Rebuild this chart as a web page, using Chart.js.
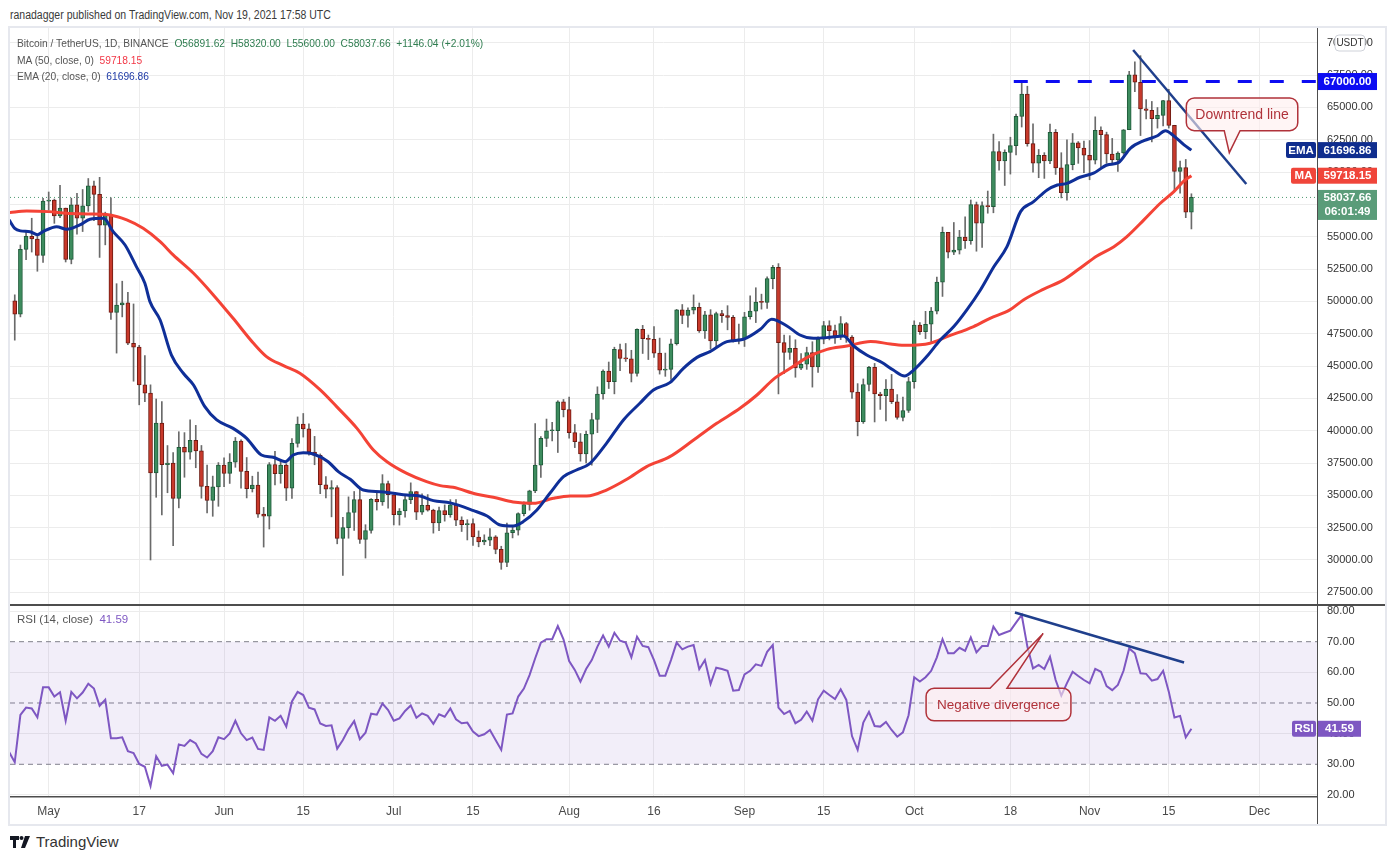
<!DOCTYPE html>
<html>
<head>
<meta charset="utf-8">
<title>BTCUSDT 1D</title>
<script src="https://cdn.jsdelivr.net/npm/chart.js@4.4.0/dist/chart.umd.min.js"></script>
<style>
  body { margin: 0; width: 1391px; height: 860px; background: #fff; position: relative; overflow: hidden;
         font-family: "Liberation Sans", Arial, sans-serif; color: #333; }
  .abs { position: absolute; }
  #frame { left: 8px; top: 26px; width: 1375px; height: 796px; border: 2px solid #e6e8ee; }
  #header { left: 10px; top: 8px; font-size: 12.5px; color: #3a3a3a; transform: scaleX(0.84); transform-origin: 0 0; white-space: nowrap; }
  #legend { left: 17px; top: 35px; font-size: 11.5px; line-height: 16.5px; color: #555; white-space: pre; transform: scaleX(0.89); transform-origin: 0 0; }
  #rsiLegend { left: 17px; top: 613px; font-size: 11.5px; color: #555; white-space: pre; }
  .up { color: #2f7d50; }
  .ma { color: #f23645; }
  .ema { color: #1e3aa6; }
  .rsi { color: #7e57c2; }
  #sep { left: 10px; top: 604px; width: 1375px; height: 1.5px; background: #4d4d4d; }
  #axisFoot { left: 1316.5px; top: 797px; width: 1px; height: 27px; background: #4d4d4d; }
  #logo { left: 10px; top: 833px; font-size: 15px; color: #333; display: flex; align-items: center; gap: 5px; }
</style>
</head>
<body>
<div id="frame" class="abs"></div>
<div id="header" class="abs">ranadagger published on TradingView.com, Nov 19, 2021 17:58 UTC</div>
<canvas id="priceChart" class="abs" style="left:10px;top:28px" width="1375" height="577"></canvas>
<canvas id="rsiChart" class="abs" style="left:10px;top:605px" width="1375" height="219"></canvas>
<div id="sep" class="abs"></div>
<div id="axisFoot" class="abs"></div>
<div id="legend" class="abs">Bitcoin / TetherUS, 1D, BINANCE  <span class="up">O56891.62  H58320.00  L55600.00  C58037.66  +1146.04 (+2.01%)</span>
MA (50, close, 0)  <span class="ma">59718.15</span>
EMA (20, close, 0)  <span class="ema">61696.86</span></div>
<div id="rsiLegend" class="abs">RSI (14, close)  <span class="rsi">41.59</span></div>
<div id="logo" class="abs">
  <svg width="21" height="12" viewBox="0 0 21 12"><path d="M0 0h9v4H6v8H3V4H0z" fill="#131722"/><circle cx="11.5" cy="2" r="2" fill="#131722"/><path d="M15 0h5l-5 12h-4z" fill="#131722"/></svg>
  <span>TradingView</span>
</div>

<script>
// day 0 = May 1 2021, first candle is Apr 25 (day -6)
const firstDay = -6;
const opens = [50047,49004,54021,55033,54824,53555,57750,57828,56610,57214,53241,57473,56429,57380,58929,58280,55883,56750,49150,49716,49880,46760,46457,43537,42910,36732,40597,37370,37500,34770,38706,38340,39250,38440,35690,34600,35650,37340,36690,37568,39188,36856,35520,35797,33552,33380,37388,36676,37331,35546,39020,40516,40144,38349,38092,35820,35484,35600,31676,32505,33676,34664,31595,32283,34700,34494,35911,35045,33504,33786,34669,35287,33690,34220,33863,32875,33815,33503,34259,33086,32730,32820,31780,31389,31533,31796,30817,29807,32110,32314,33581,34292,35350,37338,39406,39996,40008,42235,41626,39846,39147,38208,39723,40862,42836,44614,43791,46280,45596,45554,44428,47834,47113,47057,45994,44687,44742,46723,49339,48905,49321,49546,47706,48960,46942,49058,48897,48765,46970,47101,48810,49246,49942,49920,51754,52634,46806,46056,46377,44843,45137,46036,44940,47081,48123,47737,47299,48292,47241,42986,40693,43574,44895,42839,42716,43208,42235,41034,41564,43790,48165,47657,48233,49245,51494,55339,53798,53956,54963,54691,57484,56041,57401,57321,61593,60860,61527,62042,64303,66026,62194,60688,61287,60852,63078,60329,58413,60575,62253,61859,61300,60911,63220,62896,61396,60941,61471,63273,67525,66947,64883,64774,64122,64380,65520,63606,60058,60344,56891.62];
const highs = [50506,54356,55460,56428,55195,57963,58458,57911,58973,57214,57980,58360,58650,59500,59300,59592,56900,58000,51367,51560,50700,49800,46600,45800,43546,42451,42250,38850,38300,39920,39850,40841,40411,38856,37338,36488,37534,37894,38225,39476,39289,37925,36480,36800,34068,37534,38400,37680,37449,39380,41064,41330,40527,39559,38202,36457,36137,35750,33298,34881,35298,35500,32730,34749,35297,36600,36100,35057,33977,34945,35967,35293,35118,35059,33929,34100,34262,34666,34679,33340,33114,33185,32250,31949,32435,31885,31063,32858,32576,33650,34500,35398,40550,39542,40900,40640,42316,42414,42599,40480,39780,39969,41350,43392,44700,45310,46456,46700,46743,46218,47886,48145,47400,48053,47160,46000,47088,49382,49757,49500,50500,49875,49229,49360,49170,49309,49667,48910,48246,49150,50420,51053,50558,51900,52780,52920,47399,47346,47031,45970,46460,46880,47250,48450,48499,48176,48825,48372,47347,43639,44000,44978,45200,42971,43950,44350,42790,42590,44132,48495,48359,49228,49530,51886,55750,55338,56100,55490,56545,57839,57680,57700,58532,62933,62350,61720,62695,64486,67000,66639,63732,61747,61500,63710,63293,61496,62499,62980,62359,62405,62437,64270,63500,63086,62600,61560,63287,67789,68524,69000,65600,65460,64990,65550,66401,63617,60840,60976,58320];
const lows = [47000,48800,53222,53813,52330,53013,57052,56035,56478,53046,52900,55200,55400,56956,56235,53400,54370,48600,46000,48800,46650,43825,42001,42250,30000,34850,33488,35200,31111,34031,36400,37800,37134,34779,33632,33380,34153,35667,35920,37170,35555,34800,35258,33300,31000,32396,35800,35936,34600,34757,38730,39506,38116,37365,35129,34803,33336,31251,28805,31683,32287,31275,30151,32071,33862,34225,34017,32711,32699,33316,34357,33125,33532,33777,32078,32261,33004,33306,32658,32203,31550,31133,31020,31179,31108,30479,29279,29482,31708,31925,33401,33851,35205,36383,38772,39200,38313,41064,39422,38690,37642,37509,37332,39853,42446,43261,42848,44650,45351,43770,44217,45971,45500,45660,44376,44203,43955,46622,48273,48000,49030,47600,47126,46315,46363,48371,47800,46853,46700,46512,48615,48361,49400,49450,50970,42843,44412,45514,44132,44722,44742,43370,44500,46720,47020,46750,47044,46829,42500,39600,40565,43069,40675,41646,40750,42098,40888,40753,41410,43283,47438,47120,46891,49022,50382,53357,53617,53661,54093,54415,53879,54167,56818,56850,60150,58963,59844,61322,63482,62000,60000,59562,59510,60650,59817,58000,57820,60174,60673,59945,59405,60624,60382,60677,60721,60050,61384,63273,66222,62822,64100,62333,63400,63576,63400,58574,58373,56474,55600];
const closes = [49004,54021,55033,54824,53555,57750,57828,56610,57213,53241,57473,56429,57380,58929,58280,55883,56750,49150,49716,49880,46760,46457,43537,42910,36732,40597,37370,37500,34770,38706,38340,39250,38440,35690,34600,35650,37340,36690,37568,39188,36856,35520,35797,33552,33380,37388,36676,37331,35546,39020,40516,40144,38349,38092,35820,35484,35600,31676,32505,33676,34664,31595,32283,34700,34494,35911,35045,33504,33786,34669,35286,33690,34220,33862,32875,33815,33502,34259,33086,32730,32820,31780,31389,31533,31796,30817,29807,32110,32314,33581,34292,35350,37338,39406,39996,40008,42235,41626,39845,39147,38207,39723,40862,42836,44614,43792,46285,45596,45554,44428,47834,47113,47057,45994,44688,44742,46723,49339,48905,49321,49546,47706,48960,46942,49058,48897,48765,46970,47101,48810,49247,49942,49920,51754,52634,46806,46056,46377,44845,45137,46036,44940,47081,48123,47737,47299,48292,47241,42986,40693,43574,44895,42839,42716,43208,42235,41034,41564,43790,48165,47657,48233,49245,51494,55340,53797,53964,54963,54691,57484,56041,57401,57321,61593,60860,61527,62042,64303,66026,62194,60688,61287,60852,63078,60329,58413,60575,62253,61859,61299,60911,63219,62896,61395,60937,61471,63273,67525,66947,64882,64774,64122,64380,65519,63606,60058,60344,56891,58037.66];

// moving averages (day, price)
const maDays   = [-7,-3.9,0,3.2,6.7,10.8,13.8,16.7,19.7,22,25.6,29.1,32.6,36.2,38.5,41.5,44.4,48,50.9,54.5,57.4,59.8,63.3,66.8,69.2,71.5,75.7,78.6,82.1,85.7,89.2,92.2,95.1,98.6,102.2,105.7,109.8,114,118.1,122.2,125.2,128.1,131.1,134.1,137.6,141.1,145.3,148.8,151.7,155.8,158.8,163.5,166.4,169.9,172.3,175.8,179.4,182.3,185.3,188.3,190.6,193.6,196.5,198.9,200.7,202];
const maValues = [56860,56990,56940,56810,56760,56680,56300,55650,54620,53590,52170,50500,48690,46760,45730,45030,44440,43150,41860,40180,38510,37600,36700,36060,35750,35620,35080,34850,34490,34380,34770,34950,34950,35410,36240,37220,37990,39280,40570,41730,42760,43970,44820,45670,46290,46550,46890,46710,46600,46760,47270,48050,48690,49340,50110,50930,51660,52560,53510,54230,55010,56300,57590,58490,59310,59718.15];
const emaDays   = [-7,-6,-5,-3.3,-2,-1,1.4,3.2,5.5,7.3,9.7,11.4,13.5,15.5,17,17.9,19.7,21.7,23.8,25.6,27.6,29.7,32.6,35,37.6,39.7,41.8,43.2,45,46.8,49.4,51.2,53.3,55.6,58.6,60.9,63.3,65.6,68,71,75.1,77.5,79.8,82.1,83.9,86.3,88.6,91,93.3,95.7,98.6,101.6,104.5,106.9,109.8,112.2,114.6,116.9,119.9,122.8,125.8,127.8,130.5,132.8,135.2,138.1,140.5,142.3,144.6,147.3,149.3,151.3,152.9,155.2,157.6,160,162.3,164.7,167.1,169.4,171.8,174.1,176.5,178.3,180,182.3,184.7,187.1,189.1,191.2,193.6,195.9,197.4,198.9,200.7,202];
const emaValues = [56300,55650,55450,55390,55160,55400,55780,55570,55910,56350,56420,55390,54360,52690,51400,49980,48560,45850,44440,43530,41860,40830,40180,39410,38120,37940,37600,38120,38300,38200,37600,36830,36240,35410,35280,35160,35030,34950,34590,34420,33820,33400,32710,32630,32970,33870,35160,36450,36960,37480,39020,40830,42120,43150,43720,44820,45670,46110,46890,47070,47840,48610,48100,47400,47140,47220,47320,46550,45850,45270,44690,44230,44690,45730,47010,48050,49340,50880,52690,54230,56940,57710,58620,59000,59130,59600,59910,60550,60730,61840,62430,62790,63200,62790,62100,61696.86];

// RSI(14), one value per day from Apr 24 (day -7)
const rsiFirstDay = -7;
const rsiValues = [34,30.7,46.1,48.5,48.2,45.3,55.1,55.1,52.1,53.5,44.2,53.6,51.5,53.4,56.3,54.7,49.1,51.1,38.5,38.5,38.8,34.3,33.7,30.1,29.2,22.9,32.6,29.5,29.9,27.1,36.5,36.0,37.9,36.8,33.4,32.2,34.3,38.8,38.2,40.1,44.2,40.1,37.9,38.7,35.0,34.7,45.3,44.2,45.8,42.3,50.5,53.6,52.6,48.5,47.9,43.3,42.5,42.7,35.1,37.9,41.4,44.1,38.2,40.3,46.5,46.2,49.8,47.7,44.2,45.0,47.4,49.2,45.2,46.6,45.8,43.2,46.3,45.5,48.2,44.7,43.4,43.6,40.7,39.2,39.8,41.2,37.9,34.7,46.2,46.6,52.1,54.7,59.1,64.6,69.7,70.8,70.8,75.1,70.8,63.7,60.8,57.0,61.1,64.0,68.4,72.0,68.4,72.9,70.3,69.7,64.9,71.6,68.6,68.2,64.0,58.9,58.9,64.0,69.7,67.5,68.4,68.9,61.0,64.0,56.2,61.5,61.1,60.5,54.0,54.2,59.3,60.5,62.6,62.1,66.7,68.9,48.5,46.4,47.4,43.4,44.5,47.2,44.2,51.2,54.0,52.6,51.3,54.5,51.0,39.2,34.7,43.6,47.1,42.5,42.3,43.8,41.2,39.0,40.4,46.0,58.4,57.0,58.4,60.5,64.9,70.8,66.2,66.2,68.0,67.0,71.4,66.5,68.6,68.6,74.9,72.2,72.9,73.6,76.2,78.7,68.4,61.3,62.4,61.1,65.1,57.5,52.4,56.5,60.2,58.8,57.5,56.4,61.1,60.2,55.5,54.2,55.9,60.5,67.8,66.2,59.7,59.5,57.3,57.8,60.5,53.7,45.3,45.8,38.8,41.59];

// axis ticks and labels
const tickDays = [0,16,31,45,61,75,92,107,123,137,153,170,184,198,214];
const tickLabels = ["May","17","Jun","15","Jul","15","Aug","16","Sep","15","Oct","18","Nov","15","Dec"];
const priceTicks = [27500,30000,32500,35000,37500,40000,42500,45000,47500,50000,52500,55000,57500,60000,62500,65000,67500,70000];
const rsiTicks = [20,30,40,50,60,70,80];
const rsiLevels = [70,50,30];

// drawings on the chart
const lastPrice = 58037.66, lastMa = 59718.15, lastEma = 61696.86, lastRsi = 41.59;
const resistance = 67000, resistanceFrom = 170.6;
const downtrend = [{x:191.7,y:69440},{x:211.7,y:59080}];
const rsiTrend = [{x:170.8,y:79.5},{x:200.7,y:63.2}];
const downNote = {text:"Downtrend line", x0:201.1, x1:220.8, top:65730, bottom:63200, tailA:207.8, tailB:210.6, tipX:208.7, tipY:61500};
const divNote = {text:"Negative divergence", x0:155.1, x1:180.7, top:54.8, bottom:44.2, tailA:166.4, tailB:169.4, tipX:175.8, tipY:72.7};

const xMin = -6.84, xMax = 224.2;
const upColor = "#3d8c5e", upBorder = "#1f5a3a", downColor = "#c8392b", downBorder = "#6e1a12";
const gridColor = "#ececec";
const FONT = "'Liberation Sans', Arial, sans-serif";

const candleDays = opens.map((_, i) => firstDay + i);
const isUp = (i) => closes[i] >= opens[i];

function fixedTicks(values) {
  return (scale) => { scale.ticks = values.map((v) => ({ value: v })); };
}

function callout(ctx, l, t, r, b, tail, side) {
  const rad = 8;
  ctx.beginPath();
  ctx.moveTo(l + rad, t);
  if (side === "top") { ctx.lineTo(tail.a, t); ctx.lineTo(tail.tx, tail.ty); ctx.lineTo(tail.b, t); }
  ctx.lineTo(r - rad, t);
  ctx.arcTo(r, t, r, t + rad, rad);
  ctx.lineTo(r, b - rad);
  ctx.arcTo(r, b, r - rad, b, rad);
  if (side === "bottom") { ctx.lineTo(tail.b, b); ctx.lineTo(tail.tx, tail.ty); ctx.lineTo(tail.a, b); }
  ctx.lineTo(l + rad, b);
  ctx.arcTo(l, b, l, b - rad, rad);
  ctx.lineTo(l, t + rad);
  ctx.arcTo(l, t, l + rad, t, rad);
  ctx.closePath();
}

function drawNote(chart, note, side, fontSize) {
  const { ctx, scales: { x, y } } = chart;
  const l = x.getPixelForValue(note.x0), r = x.getPixelForValue(note.x1);
  const t = y.getPixelForValue(note.top), b = y.getPixelForValue(note.bottom);
  const tail = { a: x.getPixelForValue(note.tailA), b: x.getPixelForValue(note.tailB),
                 tx: x.getPixelForValue(note.tipX), ty: y.getPixelForValue(note.tipY) };
  ctx.save();
  callout(ctx, l, t, r, b, tail, side);
  ctx.fillStyle = "rgba(255,238,238,0.6)";
  ctx.fill();
  ctx.lineWidth = 1.5;
  ctx.strokeStyle = "#b0323a";
  ctx.stroke();
  ctx.fillStyle = "#b0323a";
  ctx.font = fontSize + "px " + FONT;
  ctx.textAlign = "center";
  ctx.textBaseline = "middle";
  ctx.fillText(note.text, (l + r) / 2, (t + b) / 2 + 1);
  ctx.restore();
}

function tag(ctx, x0, x1, yc, h, bg, lines, opts = {}) {
  ctx.fillStyle = bg;
  const top = opts.top !== undefined ? opts.top : yc - h / 2;
  if (opts.round) {
    ctx.beginPath();
    ctx.roundRect(x0, top, x1 - x0, h, 2);
    ctx.fill();
  } else {
    ctx.fillRect(x0, top, x1 - x0, h);
  }
  ctx.fillStyle = "#fff";
  ctx.font = "bold 11.5px " + FONT;
  ctx.textAlign = "center";
  ctx.textBaseline = "middle";
  lines.forEach((s, k) => ctx.fillText(s, (x0 + x1) / 2, yc + k * 14 + 0.5));
}

const priceOverlay = {
  id: "priceOverlay",
  afterDatasetsDraw(chart) {
    drawNote(chart, downNote, "bottom", 14);
  },
  afterDraw(chart) {
    const { ctx, chartArea: a, scales: { y } } = chart;
    const R = a.right;
    ctx.save();
    // currency badge
    ctx.beginPath();
    ctx.roundRect(R + 18, 7, 30, 16, 4);
    ctx.fillStyle = "#fff";
    ctx.fill();
    ctx.strokeStyle = "#cfd2d9";
    ctx.lineWidth = 1;
    ctx.stroke();
    ctx.fillStyle = "#333";
    ctx.font = "10px " + FONT;
    ctx.textAlign = "center";
    ctx.textBaseline = "middle";
    ctx.fillText("USDT", R + 33, 15.5);

    tag(ctx, R + 1, R + 60, y.getPixelForValue(resistance), 17, "#0d0df2", ["67000.00"]);
    const ye = y.getPixelForValue(lastEma);
    tag(ctx, R - 31, R - 1, ye, 16, "#0f2d8e", ["EMA"], { round: true });
    tag(ctx, R + 1, R + 60, ye, 16, "#0f2d8e", ["61696.86"]);
    const ym = y.getPixelForValue(lastMa);
    tag(ctx, R - 26, R - 1, ym, 16, "#f0453a", ["MA"], { round: true });
    tag(ctx, R + 1, R + 60, ym, 16, "#f0453a", ["59718.15"]);
    const yp = y.getPixelForValue(lastPrice);
    tag(ctx, R + 1, R + 60, yp, 30, "#5a9c79", ["58037.66", "06:01:49"], { top: yp - 7.5 });
    ctx.restore();
  }
};

const rsiOverlay = {
  id: "rsiOverlay",
  afterDatasetsDraw(chart) {
    drawNote(chart, divNote, "top", 13.5);
  },
  afterDraw(chart) {
    const { ctx, chartArea: a, scales: { y } } = chart;
    const R = a.right;
    const yr = y.getPixelForValue(lastRsi);
    ctx.save();
    tag(ctx, R - 25, R - 1, yr, 16, "#7e57c2", ["RSI"], { round: true });
    tag(ctx, R + 1, R + 44, yr, 16, "#7e57c2", ["41.59"]);
    ctx.restore();
  }
};

const xScale = (showLabels) => ({
  type: "linear",
  min: xMin,
  max: xMax,
  offset: false,
  afterBuildTicks: fixedTicks(tickDays),
  ticks: {
    display: showLabels,
    maxRotation: 0,
    autoSkip: false,
    padding: 7,
    color: "#4a4a4a",
    font: { family: FONT, size: 12 },
    callback: (v) => tickLabels[tickDays.indexOf(v)] || ""
  },
  grid: { color: gridColor, drawTicks: false, offset: false },
  border: { display: showLabels, color: "#4d4d4d", width: 1.5 },
  afterFit: (s) => {
    s.paddingLeft = 0;
    s.paddingRight = 0;
    s.height = showLabels ? 27 : 0;
  }
});

const yAxisCommon = {
  position: "right",
  ticks: { padding: 10, color: "#333", font: { family: FONT, size: 11 }, callback: (v) => v.toFixed(2) },
  border: { color: "#4d4d4d", width: 1 },
  afterFit: (s) => {
    // keep the plot flush with the panel edges
    s.width = 68;
    s.paddingTop = 0;
    s.paddingBottom = 0;
  }
};

new Chart(document.getElementById("priceChart"), {
  type: "bar",
  data: {
    datasets: [
      {
        label: "last price",
        type: "line",
        data: [{ x: xMin, y: lastPrice }, { x: xMax, y: lastPrice }],
        borderColor: "#4f9a72",
        borderWidth: 1,
        borderDash: [1, 3],
        pointRadius: 0,
        order: 9
      },
      {
        label: "wicks",
        data: candleDays.map((d, i) => ({ x: d, y: [lows[i], highs[i]] })),
        backgroundColor: "#6a6a6a",
        barThickness: 1,
        grouped: false,
        order: 8
      },
      {
        label: "bodies",
        data: candleDays.map((d, i) => ({ x: d, y: [opens[i], closes[i]] })),
        backgroundColor: (c) => (isUp(c.dataIndex) ? upColor : downColor),
        borderColor: (c) => (isUp(c.dataIndex) ? upBorder : downBorder),
        borderWidth: 1,
        borderSkipped: false,
        barThickness: 4,
        minBarLength: 1,
        grouped: false,
        order: 7
      },
      {
        label: "MA 50",
        type: "line",
        data: maDays.map((d, i) => ({ x: d, y: maValues[i] })),
        borderColor: "#f44336",
        borderWidth: 3,
        pointRadius: 0,
        cubicInterpolationMode: "monotone",
        order: 4
      },
      {
        label: "EMA 20",
        type: "line",
        data: emaDays.map((d, i) => ({ x: d, y: emaValues[i] })),
        borderColor: "#0f2f98",
        borderWidth: 3,
        pointRadius: 0,
        cubicInterpolationMode: "monotone",
        order: 3
      },
      {
        label: "67000",
        type: "line",
        data: [{ x: resistanceFrom, y: resistance }, { x: xMax, y: resistance }],
        borderColor: "#0d0df2",
        borderWidth: 3,
        borderDash: [14, 18],
        pointRadius: 0,
        order: 2
      },
      {
        label: "downtrend",
        type: "line",
        data: downtrend,
        borderColor: "#1f3f8c",
        borderWidth: 2.5,
        pointRadius: 0,
        order: 1
      }
    ]
  },
  options: {
    responsive: false,
    animation: false,
    layout: { padding: 0, autoPadding: false },
    plugins: { legend: { display: false }, tooltip: { enabled: false } },
    scales: {
      x: xScale(false),
      y: {
        ...yAxisCommon,
        min: 26520,
        max: 71140,
        afterBuildTicks: fixedTicks(priceTicks),
        grid: { color: gridColor, drawTicks: false }
      }
    }
  },
  plugins: [priceOverlay]
});

const levelLine = (v, extra = {}) => ({
  type: "line",
  data: [{ x: xMin, y: v }, { x: xMax, y: v }],
  borderColor: "#80808a",
  borderWidth: 1,
  borderDash: [5, 4],
  pointRadius: 0,
  order: 6,
  ...extra
});

new Chart(document.getElementById("rsiChart"), {
  type: "line",
  data: {
    datasets: [
      levelLine(rsiLevels[0], { fill: { value: rsiLevels[2] }, backgroundColor: "rgba(126,87,194,0.1)" }),
      levelLine(rsiLevels[1]),
      levelLine(rsiLevels[2]),
      {
        label: "RSI",
        data: rsiValues.map((v, i) => ({ x: rsiFirstDay + i, y: v })),
        borderColor: "#7e57c2",
        borderWidth: 2,
        pointRadius: 0,
        order: 2
      },
      {
        label: "rsi trend",
        data: rsiTrend,
        borderColor: "#1f3f8c",
        borderWidth: 2.5,
        pointRadius: 0,
        order: 1
      }
    ]
  },
  options: {
    responsive: false,
    animation: false,
    layout: { padding: 0, autoPadding: false },
    plugins: { legend: { display: false }, tooltip: { enabled: false } },
    scales: {
      x: xScale(true),
      y: {
        ...yAxisCommon,
        min: 19.33,
        max: 81.97,
        afterBuildTicks: fixedTicks(rsiTicks),
        grid: {
          drawTicks: false,
          color: (c) => (c.tick && rsiLevels.includes(c.tick.value) ? "rgba(0,0,0,0)" : gridColor)
        }
      }
    }
  },
  plugins: [rsiOverlay]
});
</script>
</body>
</html>
